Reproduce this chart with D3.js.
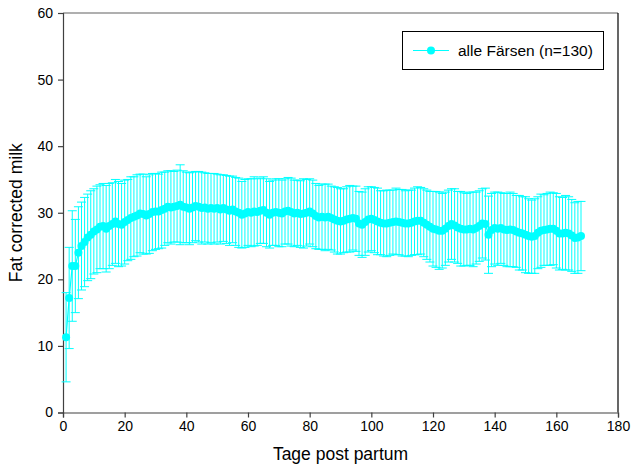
<!DOCTYPE html>
<html>
<head>
<meta charset="utf-8">
<script src="https://cdn.jsdelivr.net/npm/d3@7"></script>
<style>
  html, body { margin: 0; padding: 0; background: #fff; }
  svg { display: block; font-family: "Liberation Sans", Arial, sans-serif; }
</style>
</head>
<body>
<svg id="chart" width="632" height="467"></svg>
<script>
// Daily fat corrected milk, day 1 .. 168 post partum
const days = d3.range(1, 169);

const meanFCM = [
  11.3, 17.2, 22.0, 22.0, 24.0, 25.0, 25.6, 26.3, 26.7, 27.2,
  27.5, 27.9, 28.0, 27.6, 28.0, 28.3, 28.7, 28.3, 28.2, 28.6,
  28.9, 29.2, 29.4, 29.6, 29.9, 29.8, 29.6, 29.8, 30.1, 30.2,
  30.2, 30.4, 30.6, 30.9, 30.8, 30.9, 31.0, 31.2, 30.9, 30.8,
  30.6, 30.8, 31.0, 30.9, 30.7, 30.8, 30.6, 30.7, 30.6, 30.7,
  30.5, 30.7, 30.5, 30.3, 30.5, 30.2, 30.0, 29.7, 29.9, 30.1,
  30.0, 30.2, 30.1, 30.3, 30.4, 30.0, 29.7, 30.0, 30.1, 30.0,
  29.9, 30.2, 30.3, 30.1, 29.9, 30.0, 29.8, 29.9, 30.0, 30.2,
  29.9, 29.5, 29.3, 29.4, 29.3, 29.4, 29.2, 29.0, 28.8, 28.7,
  28.8, 29.0, 29.1, 29.2, 29.1, 28.4, 28.2, 28.6, 29.0, 29.1,
  28.9, 28.7, 28.5, 28.4, 28.4, 28.5, 28.6, 28.7, 28.6, 28.5,
  28.4, 28.4, 28.5, 28.7, 28.8, 28.8, 28.5, 28.2, 27.9, 27.6,
  27.5, 27.3, 27.3, 27.6, 28.0, 28.3, 28.1, 27.8, 27.6, 27.5,
  27.5, 27.6, 27.5, 27.7, 28.0, 28.4, 28.3, 26.7, 27.4, 27.7,
  27.6, 27.7, 27.5, 27.4, 27.5, 27.4, 27.2, 27.0, 26.9, 26.7,
  26.5, 26.4, 26.5, 27.0, 27.3, 27.4, 27.5, 27.6, 27.6, 27.3,
  26.9, 26.9, 27.0, 26.9, 26.6, 26.2, 26.3, 26.5
];

const sdFCM = [
  6.7, 7.6, 8.3, 7.0, 6.9, 6.6, 6.7, 6.5, 6.6, 6.4,
  6.5, 6.3, 6.4, 6.5, 6.4, 6.2, 6.3, 6.4, 6.2, 6.3,
  6.1, 6.2, 6.0, 6.1, 5.9, 6.0, 5.8, 5.9, 5.8, 5.7,
  5.6, 5.7, 5.5, 5.4, 5.5, 5.3, 5.4, 6.0, 5.4, 5.3,
  5.4, 5.3, 5.2, 5.3, 5.4, 5.2, 5.3, 5.2, 5.3, 5.1,
  5.2, 5.0, 5.1, 5.2, 5.0, 5.1, 5.2, 5.0, 5.1, 5.0,
  5.1, 5.2, 5.0, 4.9, 5.0, 5.1, 5.0, 4.9, 5.0, 5.1,
  5.0, 4.9, 5.0, 5.1, 5.0, 4.9, 5.0, 5.2, 5.0, 4.9,
  5.0, 4.9, 4.8, 4.9, 5.0, 4.9, 4.8, 4.9, 5.0, 4.9,
  4.8, 4.9, 5.0, 4.8, 4.9, 4.8, 4.9, 5.0, 4.9, 4.8,
  4.9, 5.0, 4.8, 4.9, 5.0, 4.9, 4.8, 5.0, 4.9, 5.0,
  4.9, 5.0, 4.9, 5.0, 5.1, 5.0, 5.1, 5.2, 5.3, 5.6,
  5.7, 5.8, 5.6, 5.5, 5.4, 5.3, 5.5, 5.4, 5.6, 5.5,
  5.4, 5.5, 5.6, 5.4, 5.3, 5.2, 5.4, 5.8, 5.5, 5.4,
  5.5, 5.3, 5.4, 5.5, 5.6, 5.5, 5.4, 5.6, 5.5, 5.7,
  5.6, 5.5, 5.6, 5.4, 5.5, 5.3, 5.4, 5.5, 5.4, 5.6,
  5.5, 5.4, 5.6, 5.5, 5.4, 5.3, 5.4, 5.2
];

const xTicks = [0, 20, 40, 60, 80, 100, 120, 140, 160, 180];
const yTicks = [0, 10, 20, 30, 40, 50, 60];
const legendLabel = "alle Färsen (n=130)";
const xTitle = "Tage post partum";
const yTitle = "Fat corrected milk";

const series = days.map((d, i) => ({ day: d, mean: meanFCM[i], sd: sdFCM[i] }));

const svg = d3.select("#chart");
const plotLeft = 63, plotRight = 618, plotTop = 13, plotBottom = 412.5;
const cyan = "#00ffff";
const axisColor = "#404040";

const x = d3.scaleLinear().domain([0, 180]).range([plotLeft, plotRight]);
const y = d3.scaleLinear().domain([0, 60]).range([plotBottom, plotTop]);

// frame: top and right edges
svg.append("line")
  .attr("x1", plotLeft).attr("x2", plotRight).attr("y1", plotTop).attr("y2", plotTop)
  .attr("stroke", "#606060").attr("stroke-width", 1.2);
svg.append("line")
  .attr("x1", plotRight).attr("x2", plotRight).attr("y1", plotTop).attr("y2", plotBottom)
  .attr("stroke", "#000").attr("stroke-width", 1.2);

// axes
const xAxis = d3.axisBottom(x).tickValues(xTicks).tickSize(5).tickPadding(4);
const yAxis = d3.axisLeft(y).tickValues(yTicks).tickSize(5).tickPadding(5);

const gx = svg.append("g").attr("transform", `translate(0,${plotBottom})`).call(xAxis);
const gy = svg.append("g").attr("transform", `translate(${plotLeft},0)`).call(yAxis);
[gx, gy].forEach(g => {
  g.select(".domain").attr("stroke", axisColor).attr("stroke-width", 1.2);
  g.selectAll(".tick line").attr("stroke", axisColor).attr("stroke-width", 1.2);
  g.selectAll(".tick text")
    .attr("fill", "#000")
    .style("font-family", '"Liberation Sans", Arial, sans-serif')
    .style("font-size", "14px");
});

// error bars (mean ± SD)
const capHalf = 4.5;
const eb = svg.append("g").attr("stroke", cyan).attr("stroke-width", 1);
eb.selectAll("line.v").data(series).join("line").attr("class", "v")
  .attr("x1", d => x(d.day)).attr("x2", d => x(d.day))
  .attr("y1", d => y(d.mean + d.sd)).attr("y2", d => y(d.mean - d.sd));
eb.selectAll("line.cu").data(series).join("line").attr("class", "cu")
  .attr("x1", d => x(d.day) - capHalf).attr("x2", d => x(d.day) + capHalf)
  .attr("y1", d => y(d.mean + d.sd)).attr("y2", d => y(d.mean + d.sd));
eb.selectAll("line.cl").data(series).join("line").attr("class", "cl")
  .attr("x1", d => x(d.day) - capHalf).attr("x2", d => x(d.day) + capHalf)
  .attr("y1", d => y(d.mean - d.sd)).attr("y2", d => y(d.mean - d.sd));

// mean line and markers
svg.append("path")
  .datum(series)
  .attr("fill", "none").attr("stroke", cyan).attr("stroke-width", 1.2)
  .attr("d", d3.line().x(d => x(d.day)).y(d => y(d.mean)));
svg.append("g").selectAll("circle").data(series).join("circle")
  .attr("cx", d => x(d.day)).attr("cy", d => y(d.mean)).attr("r", 4)
  .attr("fill", cyan);

// axis titles
svg.append("text")
  .attr("x", (plotLeft + plotRight) / 2).attr("y", 460)
  .attr("text-anchor", "middle")
  .style("font-size", "17.5px").attr("fill", "#000")
  .text(xTitle);
svg.append("text")
  .attr("transform", `translate(22,${(plotTop + plotBottom) / 2}) rotate(-90)`)
  .attr("text-anchor", "middle")
  .style("font-size", "17.5px").attr("fill", "#000")
  .text(yTitle);

// legend
const lg = svg.append("g");
lg.append("rect")
  .attr("x", 402.5).attr("y", 31.5).attr("width", 201).attr("height", 38)
  .attr("fill", "#fff").attr("stroke", "#000").attr("stroke-width", 1);
lg.append("line")
  .attr("x1", 413).attr("x2", 449).attr("y1", 50.5).attr("y2", 50.5)
  .attr("stroke", cyan).attr("stroke-width", 1.2);
lg.append("circle").attr("cx", 431).attr("cy", 50.5).attr("r", 4).attr("fill", cyan);
lg.append("text")
  .attr("x", 458).attr("y", 56)
  .style("font-size", "15.5px").attr("fill", "#000")
  .text(legendLabel);
</script>
</body>
</html>
